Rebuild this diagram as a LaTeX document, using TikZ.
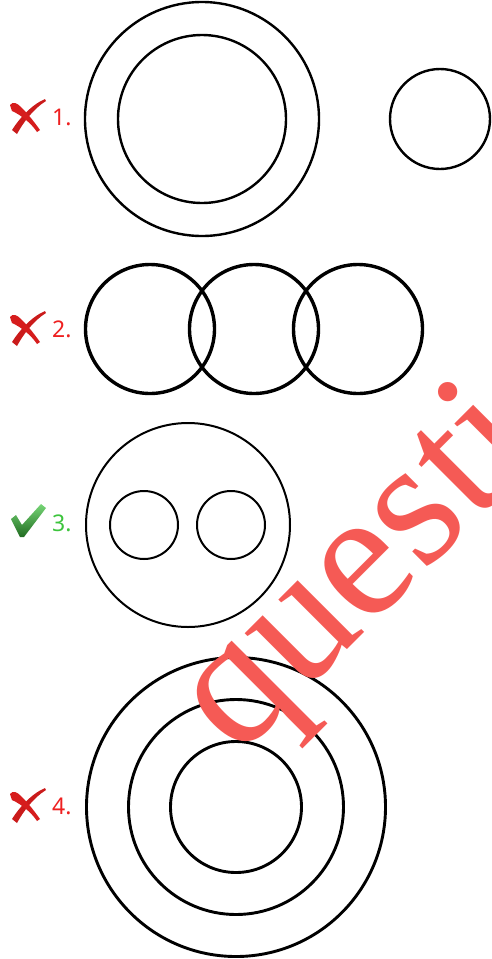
\documentclass[tikz,border=0pt]{standalone}
\usepackage{fontspec}
\newfontfamily\labfont{Noto Sans}
\newfontfamily\markfont{Liberation Serif}
\begin{document}
\begin{tikzpicture}[x=1pt,y=-1pt]
\definecolor{wrong}{RGB}{238,32,32}
\definecolor{right}{RGB}{60,196,60}
\definecolor{stamp}{RGB}{245,90,85}
\tikzset{ring/.style={draw,line width=#1},
         optlabel/.style={anchor=west,inner sep=0pt,font=\labfont\fontsize{23}{23}\selectfont}}
\useasboundingbox (0,0) rectangle (492,959);
\clip (0,0) rectangle (492,959);

% option 1: two nested circles and a separate one
\draw[ring=2.4pt] (202,119) circle (117);
\draw[ring=2.4pt] (202,119) circle (84);
\draw[ring=2.4pt] (440,119) circle (50);

% option 2: three overlapping circles in a row
\foreach \cx in {150,254,358}
    \draw[ring=3.4pt] (\cx,329) circle (64.5);

% option 3: one circle holding two separate ones
\draw[ring=2pt] (188,525) circle (102);
\foreach \cx in {144,231}
    \draw[ring=2pt] (\cx,525) circle (34);

% option 4: three concentric circles
\foreach \r in {149.5,107.5,65.5}
    \draw[ring=2.9pt] (236,807) circle (\r);

% marks: red crosses for 1, 2, 4 and a green tick for 3
\foreach \yy in {117,329,806}
{
    \begin{scope}[shift={(27,\yy)}]
    \fill[wrong!85!black] (18,-18) .. controls (4,-12) and (-8,2) .. (-15,13)
        -- (-10,17) .. controls (-4,6) and (6,-8) .. (19,-16) -- cycle;
    \fill[wrong!90!black] (-17,-12) .. controls (-14,-16) and (-10,-14) .. (-6,-10)
        .. controls (2,-2) and (8,6) .. (13,13) -- (10,15)
        .. controls (4,6) and (-6,-2) .. (-15,-6) -- cycle;
    \end{scope}
}
\shade[top color=right!70!white,bottom color=right!55!black]
    (11,519) -- (16,515) -- (22,525) -- (41,504) -- (46,508) -- (24,537) -- (20,537) -- cycle;

% option numbers
\foreach \n/\yy/\col in {1/117/wrong, 2/329/wrong, 3/523/right, 4/806/wrong}
    \node[optlabel,text=\col] (lab\n) at (52,\yy) {\n.};

% watermark on top
\node[anchor=base west,inner sep=0pt,rotate=45,text=stamp,
      font=\markfont\fontsize{182}{182}\selectfont] (stamp) at (238,759) {questi};
\end{tikzpicture}
\end{document}
